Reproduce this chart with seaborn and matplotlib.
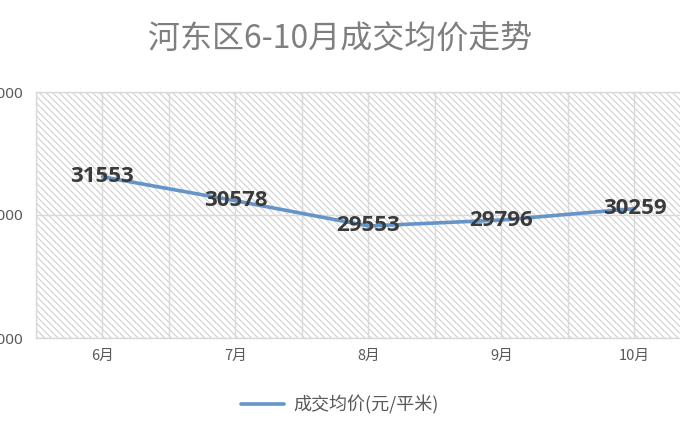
import matplotlib
matplotlib.use("Agg")
import matplotlib.pyplot as plt
import seaborn as sns
import pandas as pd
import numpy as np
from matplotlib.lines import Line2D

months = ["6月", "7月", "8月", "9月", "10月"]
prices = [31553, 30578, 29553, 29796, 30259]
yticks = [25000, 30000, 35000]
title = "河东区6-10月成交均价走势"
series_name = "成交均价(元/平米)"

sns.set_theme(style="white")
plt.rcParams['font.family'] = ['Noto Sans CJK SC', 'DejaVu Sans']
plt.rcParams['hatch.color'] = '#d0d0d0'
plt.rcParams['hatch.linewidth'] = 0.8

df = pd.DataFrame({"月份": months, "价格": prices})

fig = plt.figure(figsize=(6.8, 4.25), dpi=100)
fig.patch.set_facecolor('white')
ax = fig.add_axes([36/680, 1-338/425, 665/680, (338-92)/425])

ax.patch.set_facecolor('white')
ax.patch.set_hatch('\\\\\\\\\\')
ax.patch.set_edgecolor('#d0d0d0')

line_color = '#6595c8'
sns.lineplot(data=df, x="月份", y="价格", ax=ax, color=line_color, linewidth=2.6,
             sort=False, label=series_name, legend=False)

for i, v in enumerate(prices):
    ax.text(i, v, str(v), ha='center', va='center', fontsize=16, fontweight='bold',
            color='#3a3a3a', family=['Open Sans', 'DejaVu Sans'])

ax.set_xlim(-0.5, 4.5)
ax.set_ylim(25000, 35000)
ax.set_yticks(yticks)
ax.set_yticklabels([str(t) for t in yticks], fontsize=11, color='#595959',
                   family=['Noto Sans', 'DejaVu Sans'])
ax.set_xticks(range(len(months)))
ax.set_xticklabels(months, fontsize=10.5, color='#595959')
ax.set_xticks(np.arange(-0.5, 5, 1), minor=True)
ax.tick_params(axis='both', which='both', length=0)
ax.tick_params(axis='y', pad=9)
ax.tick_params(axis='x', pad=8)
ax.grid(True, which='both', axis='x', color='#d9d9d9', linewidth=1)
ax.grid(True, which='major', axis='y', color='#d9d9d9', linewidth=1)
ax.set_axisbelow(True)
ax.set_xlabel("")
ax.set_ylabel("")
for s in ax.spines.values():
    s.set_color('#d9d9d9')
    s.set_linewidth(1)

fig.text(340/680, 1-40/425, title, ha='center', va='center', fontsize=23, color='#7f7f7f')

handle = Line2D([0], [0], color=line_color, linewidth=2.6)
fig.legend([handle], [series_name], loc='center', bbox_to_anchor=(340/680, 1-405/425),
           frameon=False, fontsize=13, handlelength=2.4, handletextpad=0.5,
           labelcolor='#595959')

fig.savefig("out.png", dpi=100, facecolor='white')
